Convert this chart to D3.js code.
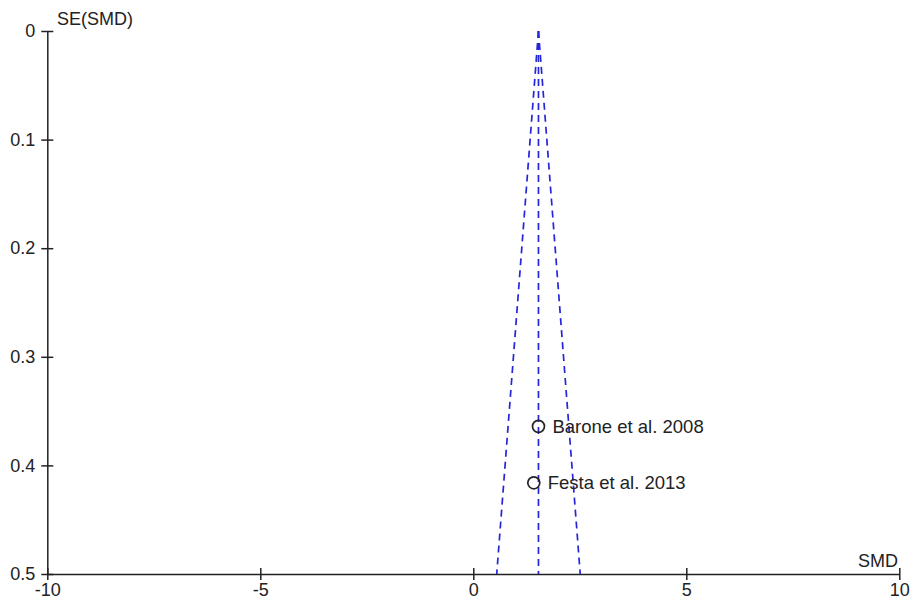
<!DOCTYPE html>
<html>
<head>
<meta charset="utf-8">
<script src="https://cdn.jsdelivr.net/npm/d3@7"></script>
<style>
  body { margin: 0; background: #fff; }
  text { font-family: "Liberation Sans", Arial, sans-serif; fill: #222; }
  .axis path, .axis line { stroke: #222; }
</style>
</head>
<body>
<svg id="funnel"></svg>
<script>
'use strict';

var width = 917;
var height = 600;

// studies (SMD and its standard error)
var studies = ['Barone et al. 2008', 'Festa et al. 2013'];
var smd_values = [1.53, 1.42];
var se_values = [0.364, 0.416];

// pooled estimate the funnel is centred on
var pooled_smd = 1.53;
var funnel_se_max = 0.5;

var x_ticks = [-10, -5, 0, 5, 10];
var y_ticks = [0, 0.1, 0.2, 0.3, 0.4, 0.5];

var svg = d3.select('#funnel').attr('width', width).attr('height', height);

var x = d3.scaleLinear().domain([-10, 10]).range([47.3, 899.3]);
var y = d3.scaleLinear().domain([0, 0.5]).range([31, 574]);

// x axis, ticks cross the line
var x_axis = svg.append('g').attr('class', 'axis')
  .attr('transform', 'translate(0,' + y(0.5) + ')')
  .call(d3.axisBottom(x).tickValues(x_ticks).tickSize(6).tickSizeOuter(0)
    .tickFormat(function (d) { return String(d); }));
x_axis.select('.domain').attr('stroke-width', 1.5);
x_axis.selectAll('.tick line').attr('y1', -6).attr('stroke-width', 1.5);
x_axis.selectAll('.tick text').attr('y', 9).style('font-size', '18px').attr('font-family', null);

var y_axis = svg.append('g').attr('class', 'axis')
  .attr('transform', 'translate(' + x(-10) + ',0)')
  .call(d3.axisLeft(y).tickValues(y_ticks).tickSize(6).tickSizeOuter(0)
    .tickFormat(function (d) { return d === 0 ? '0' : d3.format('.1f')(d); }));
y_axis.select('.domain').attr('stroke-width', 1.5);
y_axis.selectAll('.tick line').attr('x1', 6).attr('stroke-width', 1.5);
y_axis.selectAll('.tick text').attr('x', -12).style('font-size', '18px').attr('font-family', null);

svg.append('text').attr('x', 57).attr('y', 24.5).style('font-size', '18px').text('SE(SMD)');
svg.append('text').attr('x', 898).attr('y', 566.5).attr('text-anchor', 'end').style('font-size', '18px').text('SMD');

// funnel: pooled line and 95% limits
var funnel = svg.append('g')
  .attr('fill', 'none')
  .attr('stroke', '#2626d9')
  .attr('stroke-width', 1.7)
  .attr('stroke-dasharray', '7,5');

funnel.append('line')
  .attr('x1', x(pooled_smd)).attr('y1', y(0))
  .attr('x2', x(pooled_smd)).attr('y2', y(funnel_se_max));

[-1.96, 1.96].forEach(function (z) {
  funnel.append('line')
    .attr('x1', x(pooled_smd)).attr('y1', y(0))
    .attr('x2', x(pooled_smd + z * funnel_se_max)).attr('y2', y(funnel_se_max));
});

var points = svg.selectAll('.study').data(d3.range(studies.length)).enter()
  .append('g').attr('class', 'study');

points.append('circle')
  .attr('cx', function (d) { return x(smd_values[d]); })
  .attr('cy', function (d) { return y(se_values[d]); })
  .attr('r', 6)
  .attr('fill', 'none')
  .attr('stroke', '#222')
  .attr('stroke-width', 1.7);

points.append('text')
  .attr('x', function (d) { return x(smd_values[d]) + 14; })
  .attr('y', function (d) { return y(se_values[d]) + 6.5; })
  .style('font-size', '18.5px')
  .text(function (d) { return studies[d]; });
</script>
</body>
</html>
